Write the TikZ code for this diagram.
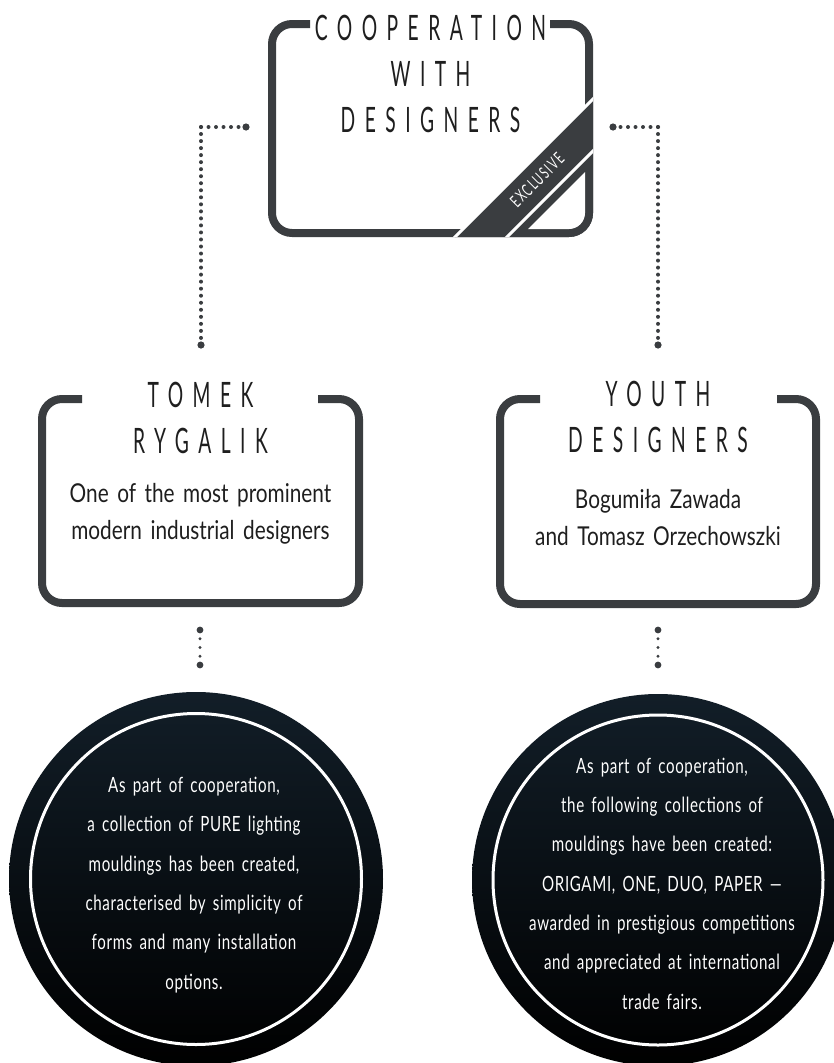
\documentclass[tikz,border=0pt]{standalone}
\usepackage{fontspec}
\setmainfont{Lato}
\newfontfamily\headfont[FakeStretch=0.55,LetterSpace=27]{Lato}
\newfontfamily\bodyfont[FakeStretch=0.8,WordSpace=1.6]{Lato}
\newfontfamily\circfont[FakeStretch=0.72,LetterSpace=3,WordSpace=1.6]{Lato}
\newfontfamily\tagfont[FakeStretch=0.62,LetterSpace=10]{Lato}
\definecolor{framecol}{HTML}{3A3D40}
\definecolor{inkcol}{HTML}{1E1E1E}
\definecolor{circtop}{RGB}{18,30,40}
\tikzset{
  framepath/.style={draw=framecol, line width=8pt, rounded corners=20pt},
  dotpath/.style={draw=framecol, line width=4pt, line cap=round, dash pattern=on 0pt off 7pt},
  bigdot/.style={fill=framecol},
  headtxt/.style={font={\headfont\fontsize{35pt}{46pt}\selectfont}, text=inkcol, align=center, inner sep=0pt},
  bodytxt/.style={font={\bodyfont\fontsize{26pt}{37pt}\selectfont}, text=inkcol, align=center, inner sep=0pt},
  circtxt/.style={font={\circfont\fontsize{21pt}{39.3pt}\selectfont}, text=white, align=center, inner sep=0pt},
  tagtxt/.style={font={\tagfont\fontsize{17pt}{17pt}\selectfont}, text=white, inner sep=0pt},
  disc/.style={circle, minimum size=374pt, inner sep=0pt, top color=circtop, bottom color=black, draw=none},
  ring/.style={draw=white, line width=3pt}
}
\begin{document}
\begin{tikzpicture}[x=1pt,y=-1pt]
\useasboundingbox (0,0) rectangle (833,1063);
% ---------- top box ----------
\draw[framepath] (310,24) -- (272,24) -- (272,233) -- (589,233) -- (589,24) -- (550,24);
\begin{scope}
  \clip[rounded corners=24pt] (268,20) rectangle (593,237);
  \fill[framecol] (450,242) -- (598,94) -- (600,94) -- (600,242) -- cycle;
  \draw[white, line width=3pt] (440,252) -- (608,84);
  \draw[white, line width=3pt] (492,252) -- (660,84);
\end{scope}
\begin{scope}
  \clip[rounded corners=16pt] (276,28) rectangle (585,229);
  \fill[white] (585,172) -- (585,240) -- (517,240) -- cycle;
\end{scope}
\node[tagtxt, rotate=45] (excl) at (537,180) {EXCLUSIVE};
\node[headtxt] (coop) at (430.5,73.5) {COOPERATION\\WITH\\DESIGNERS};
% ---------- left box ----------
\draw[framepath] (82,399) -- (42,399) -- (42,603) -- (359,603) -- (359,399) -- (318,399);
\node[headtxt] (tomek) at (200.5,417.5) {TOMEK\\RYGALIK};
\node[bodytxt] (ltxt) at (200.5,513.5) {One of the most prominent\\modern industrial designers};
% ---------- right box ----------
\draw[framepath] (540,399) -- (500,399) -- (500,604) -- (816,604) -- (816,399) -- (777,399);
\node[headtxt] (youth) at (658,416.5) {YOUTH\\DESIGNERS};
\node[bodytxt] (rtxt) at (658,517.5) {Bogumiła Zawada\\and Tomasz Orzechowszki};
% ---------- connectors from top ----------
\coordinate (tl0) at (246,127); \coordinate (tl1) at (201,127); \coordinate (tl2) at (201,345);
\coordinate (tr0) at (613,127); \coordinate (tr1) at (658,127); \coordinate (tr2) at (658,345);
\draw[dotpath, dash pattern=on 0pt off 7.5pt] (tl1) -- (tl0);
\draw[dotpath, dash pattern=on 0pt off 7.03pt] (tl1) -- (tl2);
\draw[dotpath, dash pattern=on 0pt off 7.5pt] (tr1) -- (tr0);
\draw[dotpath, dash pattern=on 0pt off 7.03pt] (tr1) -- (tr2);
\fill[bigdot] (tl0) circle (3.6pt); \fill[bigdot] (tl2) circle (3.6pt);
\fill[bigdot] (tr0) circle (3.6pt); \fill[bigdot] (tr2) circle (3.6pt);
% ---------- connectors below boxes ----------
\coordinate (lb0) at (200,630); \coordinate (lb1) at (200,665);
\coordinate (rb0) at (658,630); \coordinate (rb1) at (658,665);
\draw[dotpath, line width=3.4pt, dash pattern=on 0pt off 8.75pt] (lb0) -- (lb1);
\draw[dotpath, line width=3.4pt, dash pattern=on 0pt off 8.75pt] (rb0) -- (rb1);
\fill[bigdot] (lb0) circle (3.4pt); \fill[bigdot] (lb1) circle (3.4pt);
\fill[bigdot] (rb0) circle (3.4pt); \fill[bigdot] (rb1) circle (3.4pt);
% ---------- circles ----------
\node[disc] (lcirc) at (196,879) {};
\draw[ring] (lcirc.center) circle[radius=165.5pt];
\node[circtxt] (lctxt) at (194,885) {As part of cooperation,\\a collection of PURE lighting\\mouldings has been created,\\characterised by simplicity of\\forms and many installation\\options.};
\node[disc, minimum size=372pt] (rcirc) at (658,880) {};
\draw[ring] (rcirc.center) circle[radius=165pt];
\node[circtxt] (rctxt) at (662,883.5) {As part of cooperation,\\the following collections of\\mouldings have been created:\\ORIGAMI, ONE, DUO, PAPER —\\awarded in prestigious competitions\\and appreciated at international\\trade fairs.};
\end{tikzpicture}
\end{document}
